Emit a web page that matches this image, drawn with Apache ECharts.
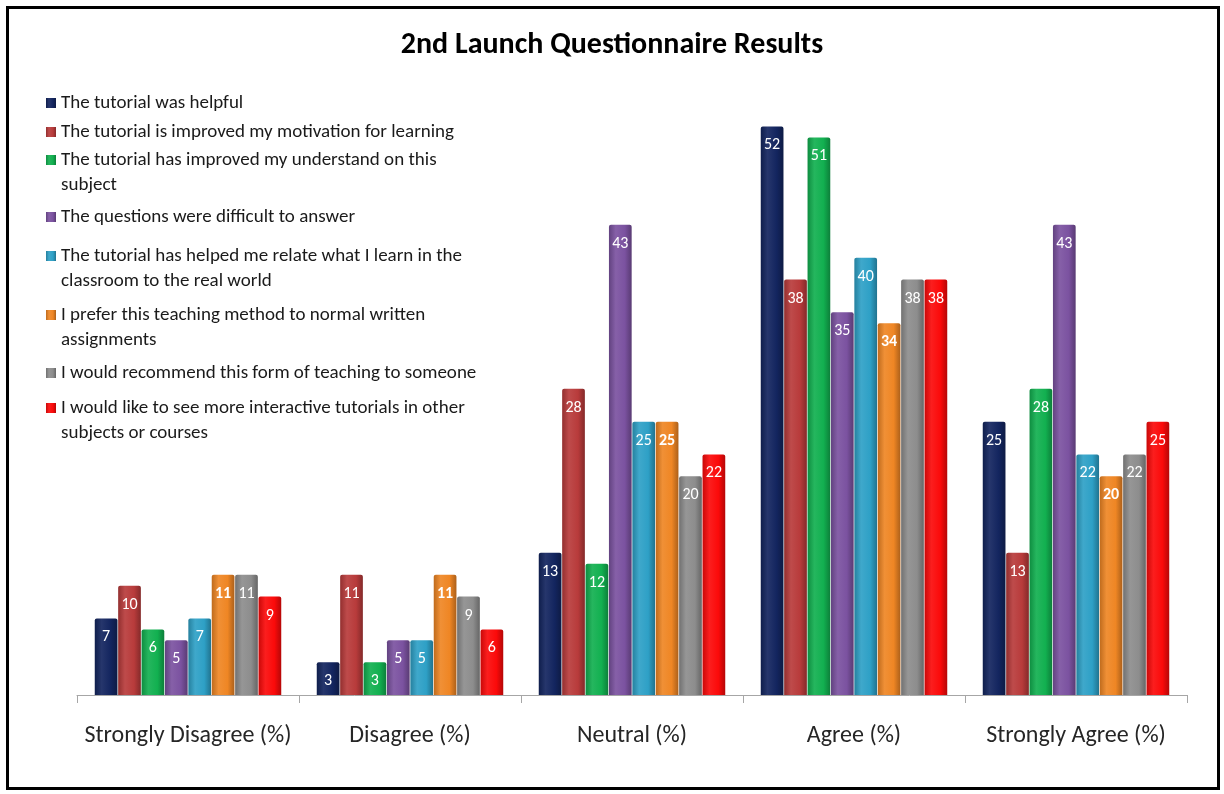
<!DOCTYPE html>
<html>
<head>
<meta charset="utf-8">
<script src="https://cdn.jsdelivr.net/npm/echarts@6/dist/echarts.min.js"></script>
<style>
  html, body { margin: 0; padding: 0; background: #fff; }
  #chart { width: 1224px; height: 794px; }
</style>
</head>
<body>
<div id="chart"></div>
<script>
const categories = ['Strongly Disagree (%)', 'Disagree (%)', 'Neutral (%)', 'Agree (%)', 'Strongly Agree (%)']

const seriesNames = [
  'The tutorial was helpful',
  'The tutorial is improved my motivation for learning',
  'The tutorial has improved my understand on this subject',
  'The questions were difficult to answer',
  'The tutorial has helped me relate what I learn in the classroom to the real world',
  'I prefer this teaching method to normal written assignments',
  'I would recommend this form of teaching to someone',
  'I would like to see more interactive tutorials in other subjects or courses'
]

// legend text as wrapped in the original
const legendLabels = [
  'The tutorial was helpful',
  'The tutorial is improved my motivation for learning',
  'The tutorial has improved my understand on this\nsubject',
  'The questions were difficult to answer',
  'The tutorial has helped me relate what I learn in the\nclassroom to the real world',
  'I prefer this teaching method to normal written\nassignments',
  'I would recommend this form of teaching to someone',
  'I would like to see more interactive tutorials in other\nsubjects or courses'
]

const helpful = [7, 3, 13, 52, 25]
const motivation = [10, 11, 28, 38, 13]
const understand = [6, 3, 12, 51, 28]
const difficult = [5, 5, 43, 35, 43]
const relate = [7, 5, 25, 40, 22]
const prefer = [11, 11, 25, 34, 20]
const recommend = [11, 9, 20, 38, 22]
const interactive = [9, 6, 22, 38, 25]

const seriesValues = [helpful, motivation, understand, difficult, relate, prefer, recommend, interactive]

const colors = ['#13255f', '#b83b3b', '#12b050', '#7b52a0', '#2ea0c6', '#ef8624', '#8d8d8d', '#fb0a0a']

// y (px) of the first text line of each legend entry
const legendLineY = [103, 132, 160, 217, 256, 315, 373, 408]

const FONT = 'Carlito, Calibri, Lato, sans-serif'
const LINE_H = 25

function shade(hex, f) {
  const n = parseInt(hex.slice(1), 16)
  let r = (n >> 16) & 255, g = (n >> 8) & 255, b = n & 255
  const t = f < 0 ? 0 : 255
  const p = Math.abs(f)
  r = Math.round((t - r) * p + r)
  g = Math.round((t - g) * p + g)
  b = Math.round((t - b) * p + b)
  return 'rgb(' + r + ',' + g + ',' + b + ')'
}

function barFill(hex) {
  return new echarts.graphic.LinearGradient(0, 0, 1, 0, [
    { offset: 0, color: shade(hex, -0.2) },
    { offset: 0.3, color: shade(hex, 0.08) },
    { offset: 0.7, color: hex },
    { offset: 1, color: shade(hex, -0.28) }
  ])
}

const chart = echarts.init(document.getElementById('chart'))

const option = {
  backgroundColor: '#fff',
  animation: false,
  title: {
    text: '2nd Launch Questionnaire Results',
    left: 'center',
    top: 30,
    padding: 0,
    textStyle: { fontFamily: FONT, fontSize: 30, fontWeight: 'bold', color: '#000' }
  },
  // one legend per entry; wrapped entries get an empty first line so the
  // icon (centred on the text block) lines up with the first real line
  legend: seriesNames.map((name, i) => {
    const twoLine = legendLabels[i].indexOf('\n') >= 0
    return {
      data: [name],
      left: 46,
      top: legendLineY[i] - (twoLine ? 1.5 * LINE_H : 0.5 * LINE_H),
      padding: 0,
      orient: 'vertical',
      icon: 'rect',
      itemWidth: 10,
      itemHeight: 10,
      selectedMode: false,
      formatter: () => (twoLine ? '\n' : '') + legendLabels[i],
      textStyle: {
        fontFamily: FONT,
        fontSize: 19,
        color: '#1a1a1a',
        lineHeight: LINE_H
      }
    }
  }),
  grid: { left: 77, right: 37, top: 39, bottom: 99 },
  xAxis: {
    type: 'category',
    data: categories,
    axisLine: { lineStyle: { color: '#a6a6a6', width: 1 } },
    axisTick: { show: true, length: 8, lineStyle: { color: '#a6a6a6' } },
    axisLabel: { interval: 0, margin: 29, fontFamily: FONT, fontSize: 24, color: '#262626' }
  },
  yAxis: {
    type: 'value',
    min: 0,
    max: 60,
    show: false,
    splitLine: { show: false }
  },
  series: seriesNames.map((name, i) => ({
    name: name,
    type: 'bar',
    data: seriesValues[i],
    barGap: '3%',
    barCategoryGap: '16%',
    itemStyle: { color: barFill(colors[i]), borderRadius: [2, 2, 0, 0] },
    label: {
      show: true,
      position: 'insideTop',
      distance: 11,
      color: '#fff',
      fontFamily: FONT,
      fontSize: 16,
      fontWeight: i === 5 ? 'bold' : 'normal'
    }
  })),
  graphic: [{
    type: 'rect',
    shape: { x: 7.5, y: 7.5, width: 1211, height: 781 },
    style: { fill: 'none', stroke: '#000', lineWidth: 3 },
    silent: true
  }]
}

chart.setOption(option)
</script>
</body>
</html>
